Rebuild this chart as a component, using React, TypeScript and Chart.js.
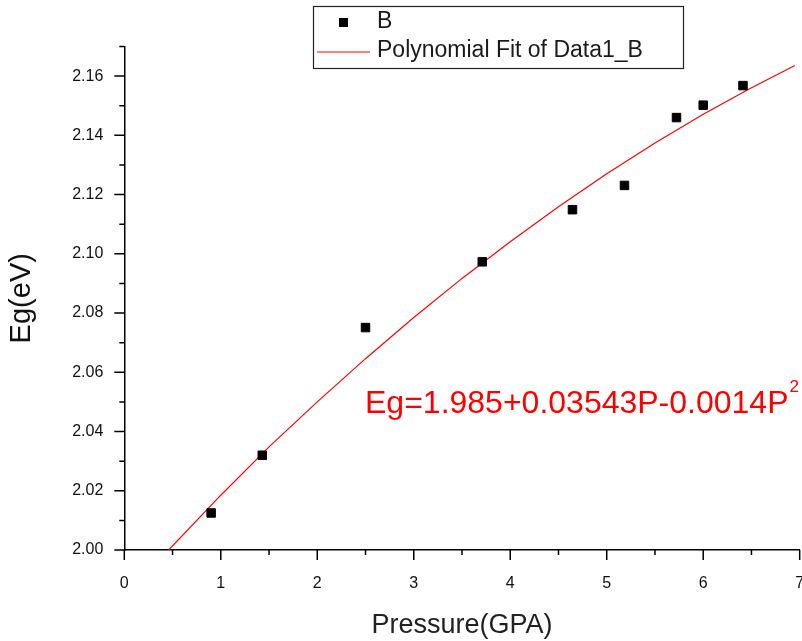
import React, { useEffect, useRef } from 'react';
import { Chart, registerables } from 'chart.js';

Chart.register(...registerables);

// Measured data (Pressure in GPa, band gap Eg in eV)
const pressure = [0.9, 1.43, 2.5, 3.71, 4.645, 5.184, 5.723, 6.0, 6.412];
const bandGap = [2.0125, 2.032, 2.0751, 2.0973, 2.1149, 2.1231, 2.146, 2.1502, 2.1568];

// Fitted curve
const fitPressure = [0.46, 1, 1.5, 2, 2.5, 3, 3.5, 4, 4.5, 5, 5.5, 6, 6.5, 6.95];
const fitBandGap = [2.0, 2.0185, 2.0348, 2.05, 2.0646, 2.0785, 2.0917, 2.1041, 2.1159, 2.127, 2.1374, 2.1471, 2.1561, 2.1636];

const xRange = [0, 7];
const yRange = [2.0, 2.17];

const seriesLabel = 'B';
const fitLabel = 'Polynomial Fit of Data1_B';
const equationMain = 'Eg=1.985+0.03543P-0.0014P';
const equationSup = '2';
const xTitle = 'Pressure(GPA)';
const yTitle = 'Eg(eV)';

const FONT = '"Liberation Sans", Arial, sans-serif';

const decorPlugin = {
  id: 'decor',
  afterDraw(chart: any) {
    const ctx = chart.ctx as CanvasRenderingContext2D;
    const xs = chart.scales.x;
    const ys = chart.scales.y;
    ctx.save();
    // tick marks (major + minor)
    ctx.strokeStyle = '#000';
    ctx.lineWidth = 1.5;
    ctx.beginPath();
    xs.ticks.forEach((t: any) => {
      const px = xs.getPixelForValue(t.value);
      const major = Math.abs(t.value - Math.round(t.value)) < 1e-6;
      const len = major ? 10 : 5;
      ctx.moveTo(px, xs.top);
      ctx.lineTo(px, xs.top + len);
    });
    ys.ticks.forEach((t: any) => {
      const py = ys.getPixelForValue(t.value);
      const major = Math.round(t.value * 100) % 2 === 0;
      const len = major ? 10 : 5;
      ctx.moveTo(ys.right, py);
      ctx.lineTo(ys.right - len, py);
    });
    ctx.stroke();

    // legend box
    ctx.lineWidth = 1.2;
    ctx.strokeStyle = '#222';
    ctx.strokeRect(313.5, 6.5, 370, 62);
    ctx.fillStyle = '#000';
    ctx.fillRect(339, 18, 9, 9);
    ctx.strokeStyle = 'rgb(255,0,0)';
    ctx.lineWidth = 1.2;
    ctx.beginPath();
    ctx.moveTo(317, 52);
    ctx.lineTo(370, 52);
    ctx.stroke();
    ctx.fillStyle = '#1a1a1a';
    ctx.font = `23px ${FONT}`;
    ctx.textBaseline = 'middle';
    ctx.textAlign = 'left';
    ctx.fillText(seriesLabel, 377, 22);
    ctx.fillText(fitLabel, 377, 51);

    // equation
    ctx.fillStyle = 'rgb(255,0,0)';
    ctx.textBaseline = 'alphabetic';
    ctx.font = `32px ${FONT}`;
    ctx.fillText(equationMain, 365, 413);
    const w = ctx.measureText(equationMain).width;
    ctx.font = `17px ${FONT}`;
    ctx.fillText(equationSup, 365 + w + 1, 392);
    ctx.restore();
  },
};

export default function App() {
  const ref = useRef<HTMLCanvasElement | null>(null);

  useEffect(() => {
    document.body.style.margin = '0';
    const canvas = ref.current;
    if (!canvas) return;
    const chart = new Chart(canvas, {
      type: 'scatter',
      data: {
        datasets: [
          {
            label: seriesLabel,
            data: pressure.map((p, i) => ({ x: p, y: bandGap[i] })),
            pointStyle: 'rect',
            pointRadius: 6,
            pointHoverRadius: 6,
            backgroundColor: '#000',
            borderColor: '#000',
            borderWidth: 1,
            showLine: false,
          },
          {
            label: fitLabel,
            data: fitPressure.map((p, i) => ({ x: p, y: fitBandGap[i] })),
            showLine: true,
            borderColor: 'rgb(255,0,0)',
            borderWidth: 1.2,
            pointRadius: 0,
            pointHoverRadius: 0,
            tension: 0,
            fill: false,
          },
        ],
      },
      options: {
        animation: false,
        responsive: false,
        devicePixelRatio: 1,
        events: [],
        layout: {
          autoPadding: false,
          padding: (c: any) => ({ top: 46.5, right: Math.max(c.chart.width - 799.7, 0), bottom: 0, left: 0 }),
        },
        plugins: {
          legend: { display: false },
          tooltip: { enabled: false },
        },
        scales: {
          x: {
            type: 'linear',
            min: xRange[0],
            max: xRange[1],
            grid: { display: false },
            border: { display: true, color: '#000', width: 1.5 },
            ticks: {
              stepSize: 0.5,
              autoSkip: false,
              maxRotation: 0,
              padding: 16,
              color: '#111',
              font: { family: FONT, size: 16 },
              callback: (v: any) => (Math.abs(v - Math.round(v)) < 1e-6 ? String(Math.round(v)) : ''),
            },
            title: {
              display: true,
              text: xTitle,
              color: '#222',
              font: { family: FONT, size: 27, lineHeight: 1 },
              padding: { top: 0, bottom: 1.5 },
            },
            afterFit: (s: any) => {
              s.height = 91;
              s.paddingLeft = 0;
              s.paddingRight = 0;
            },
          },
          y: {
            type: 'linear',
            min: yRange[0],
            max: yRange[1],
            grid: { display: false },
            border: { display: true, color: '#000', width: 1.5 },
            ticks: {
              stepSize: 0.01,
              autoSkip: false,
              padding: 13,
              color: '#111',
              font: { family: FONT, size: 16 },
              callback: (v: any) => (Math.round(v * 100) % 2 === 0 ? Number(v).toFixed(2) : ''),
            },
            title: {
              display: true,
              text: yTitle,
              color: '#111',
              font: { family: FONT, size: 29, lineHeight: 1 },
              padding: { top: 7, bottom: 0 },
            },
            afterFit: (s: any) => {
              s.width = 124.3;
              s.paddingTop = 0;
              s.paddingBottom = 0;
            },
          },
        },
      },
      plugins: [decorPlugin],
    });
    return () => chart.destroy();
  }, []);

  return (
    <div style={{ width: 802, height: 641, overflow: 'hidden', background: '#fff' }}>
      <canvas ref={ref} width={812} height={641} style={{ display: 'block', width: 812, height: 641 }} />
    </div>
  );
}
